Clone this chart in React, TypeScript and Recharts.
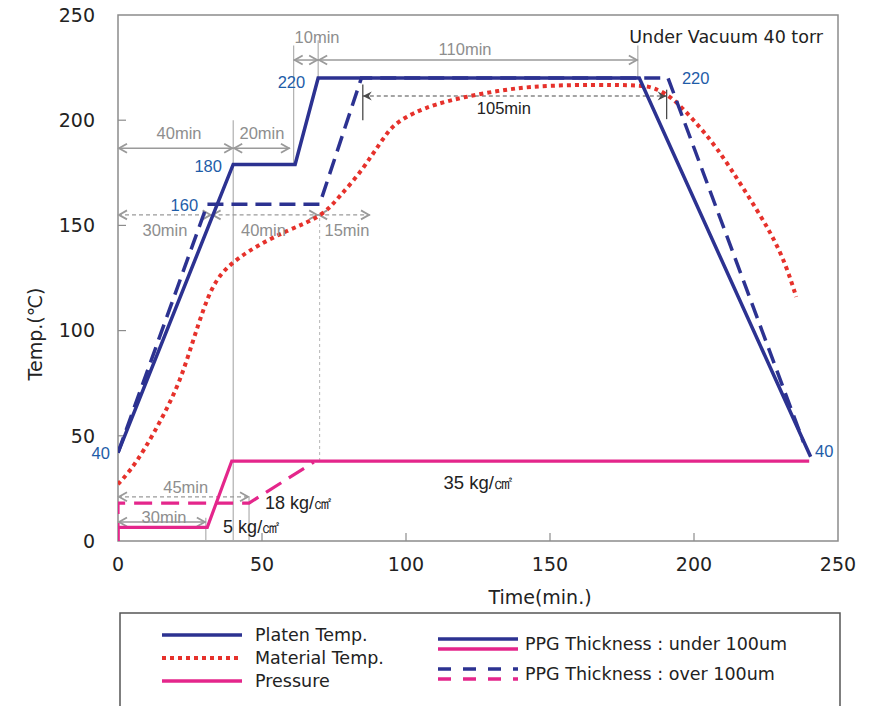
import React from 'react';
import {
    ComposedChart,
    Line,
    XAxis,
    YAxis,
    ReferenceLine,
    ReferenceArea,
    ReferenceDot,
    Label
} from 'recharts';

const SANS = '"Liberation Sans", Arial, Helvetica, sans-serif';
const WIDE = '"DejaVu Sans", "Liberation Sans", sans-serif';

const BLUE = '#2c3291';
const RED = '#e6312b';
const PINK = '#e4268b';
const NUM_BLUE = '#1e5ca8';
const GRAY = '#9a9a9a';
const DARK = '#4a4a4a';
const FRAME = '#8c8c8c';
const INK = '#222222';

// time in minutes on x, temperature (°C) on y; pressure is drawn on the same scale
const xTicks = [0, 50, 100, 150, 200, 250];
const yTicks = [0, 50, 100, 150, 200, 250];
const innerTicks = [50, 100, 150, 200];

const platenThin = [
    { t: 0, v: 42 },
    { t: 40, v: 179 },
    { t: 61.5, v: 179 },
    { t: 69.5, v: 220 },
    { t: 181, v: 220 },
    { t: 240.5, v: 40 }
];

const platenThick = [
    { t: 0, v: 42 },
    { t: 31, v: 160 },
    { t: 70, v: 160 },
    { t: 84.5, v: 220 },
    { t: 191, v: 220 },
    { t: 238, v: 47 }
];

const materialTemp = [
    { t: 0, v: 27 },
    { t: 4, v: 33 },
    { t: 9, v: 43 },
    { t: 15.6, v: 59 },
    { t: 21.6, v: 76 },
    { t: 26, v: 95 },
    { t: 29.6, v: 110 },
    { t: 32.5, v: 120 },
    { t: 36, v: 127.5 },
    { t: 40, v: 132.5 },
    { t: 45, v: 137.5 },
    { t: 52, v: 143 },
    { t: 58.8, v: 147.5 },
    { t: 65, v: 151 },
    { t: 70, v: 154.5 },
    { t: 74, v: 159 },
    { t: 77, v: 164 },
    { t: 81, v: 170 },
    { t: 85, v: 177 },
    { t: 88, v: 183 },
    { t: 91, v: 189 },
    { t: 94, v: 195 },
    { t: 97, v: 199 },
    { t: 102.6, v: 203.5 },
    { t: 110, v: 207.5 },
    { t: 120, v: 211 },
    { t: 132, v: 214 },
    { t: 143, v: 216 },
    { t: 158, v: 216.8 },
    { t: 172, v: 216.8 },
    { t: 182, v: 216.5 },
    { t: 186, v: 215.5 },
    { t: 192, v: 211.5 },
    { t: 200, v: 200 },
    { t: 208, v: 187 },
    { t: 217, v: 168 },
    { t: 227, v: 146 },
    { t: 232, v: 131 },
    { t: 235.5, v: 116 }
];

const pressureThin = [
    { t: 0, v: 0 },
    { t: 0, v: 6.5 },
    { t: 31, v: 6.5 },
    { t: 39.5, v: 38 },
    { t: 240, v: 38 }
];

const pressureThick = [
    { t: 0, v: 0 },
    { t: 0, v: 18 },
    { t: 45.5, v: 18 },
    { t: 68, v: 37.5 }
];

// dimension arrows (double headed)
const spans = [
    { from: 0, to: 40, v: 186.7, kind: 'solid' },
    { from: 40, to: 59.7, v: 186.7, kind: 'solid' },
    { from: 61, to: 69.5, v: 228.6, kind: 'solid' },
    { from: 69.5, to: 180.5, v: 228.6, kind: 'solid' },
    { from: 0, to: 32.5, v: 155, kind: 'dashed' },
    { from: 32.5, to: 69.5, v: 155, kind: 'dashed' },
    { from: 69.5, to: 87.5, v: 155, kind: 'dashed' },
    { from: 85, to: 190.5, v: 211.5, kind: 'dark' },
    { from: 0, to: 45.5, v: 21, kind: 'dashed' },
    { from: 0, to: 30.5, v: 9, kind: 'solid' }
];

const guides = [
    { t: 40, lo: 0, hi: 200, kind: 'solid' },
    { t: 61, lo: 179, hi: 235.5, kind: 'solid' },
    { t: 69.5, lo: 220, hi: 238, kind: 'solid' },
    { t: 180.5, lo: 220, hi: 235.5, kind: 'solid' },
    { t: 85, lo: 200, hi: 217, kind: 'dark' },
    { t: 190.5, lo: 200.5, hi: 214.5, kind: 'dark' },
    { t: 70, lo: 38, hi: 155, kind: 'dashed' },
    { t: 45.5, lo: 0, hi: 21, kind: 'solid' },
    { t: 30.5, lo: 0, hi: 11, kind: 'solid' }
];

const spanLabels = [
    { text: '40min', t: 21.2, v: 194 },
    { text: '20min', t: 50, v: 194 },
    { text: '10min', t: 69.1, v: 239.5 },
    { text: '110min', t: 120.5, v: 233.8 },
    { text: '30min', t: 16.3, v: 147.8 },
    { text: '40min', t: 50.5, v: 147.8 },
    { text: '15min', t: 79.5, v: 147.8 },
    { text: '45min', t: 23.5, v: 25.7 },
    { text: '30min', t: 16, v: 11.4 }
];

const inkLabels = [
    { text: '105min', t: 134, v: 205.8, anchor: 'middle', size: 16.5, font: SANS },
    { text: '5 kg/㎠', t: 36.5, v: 6.7, anchor: 'start', size: 18, font: SANS },
    { text: '18 kg/㎠', t: 51, v: 18, anchor: 'start', size: 18, font: SANS },
    { text: '35 kg/㎠', t: 113, v: 27.6, anchor: 'start', size: 18.5, font: SANS },
    { text: 'Under Vacuum 40 torr', t: 244.8, v: 239.5, anchor: 'end', size: 17.5, font: WIDE }
];

const setpointLabels = [
    { text: '40', t: -2.8, v: 41.8, anchor: 'end' },
    { text: '160', t: 27.8, v: 159.7, anchor: 'end' },
    { text: '180', t: 36.1, v: 178, anchor: 'end' },
    { text: '220', t: 65, v: 218, anchor: 'end' },
    { text: '220', t: 195.8, v: 220, anchor: 'start' },
    { text: '40', t: 242, v: 43, anchor: 'start' }
];

const legendLeft = [
    { label: 'Platen Temp.', color: BLUE, dash: undefined, width: 3.5 },
    { label: 'Material Temp.', color: RED, dash: '4 4', width: 4 },
    { label: 'Pressure', color: PINK, dash: undefined, width: 3.5 }
];

const legendRight = [
    { label: 'PPG Thickness : under 100um', dash: undefined },
    { label: 'PPG Thickness : over 100um', dash: '13 12' }
];

const spanStyle: Record<string, { color: string; dash?: string; width: number }> = {
    solid: { color: GRAY, width: 1.5 },
    dashed: { color: GRAY, dash: '4 3', width: 1.3 },
    dark: { color: DARK, dash: '4 3', width: 1.2 }
};

const arrowShape = (kind: string) => (p: any) => {
    const { color, dash, width } = spanStyle[kind];
    const left = Math.min(p.x1, p.x2);
    const right = Math.max(p.x1, p.x2);
    const y = p.y1;
    const h = 9;
    const w = 4.5;
    if (kind === 'dark') {
        return (
            <g>
                <line x1={left} y1={y} x2={right} y2={y} stroke={color} strokeWidth={width} strokeDasharray={dash} />
                <polygon points={`${left},${y} ${left + h},${y - w} ${left + h - 3},${y} ${left + h},${y + w}`} fill={color} />
                <polygon points={`${right},${y} ${right - h},${y - w} ${right - h + 3},${y} ${right - h},${y + w}`} fill={color} />
            </g>
        );
    }
    return (
        <g>
            <line x1={left} y1={y} x2={right} y2={y} stroke={color} strokeWidth={width} strokeDasharray={dash} />
            <polyline points={`${left + h},${y - w} ${left + 1},${y} ${left + h},${y + w}`} fill="none" stroke={color} strokeWidth={1.8} />
            <polyline points={`${right - h},${y - w} ${right - 1},${y} ${right - h},${y + w}`} fill="none" stroke={color} strokeWidth={1.8} />
        </g>
    );
};

const textShape = (text: string, anchor: string, color: string, size: number, font: string = SANS) => (p: any) => (
    <text
        x={p.cx}
        y={p.cy}
        textAnchor={anchor as any}
        dominantBaseline="central"
        fill={color}
        fontSize={size}
        fontFamily={font}
    >
        {text}
    </text>
);

const Legend = () => (
    <svg
        width={872}
        height={706}
        style={{ position: 'absolute', left: 0, top: 0, pointerEvents: 'none' }}
    >
        <rect x={120} y={613} width={720} height={120} fill="none" stroke="#555" strokeWidth={1.5} />
        {legendLeft.map((item, i) => {
            const y = 635 + i * 23;
            return (
                <g key={item.label}>
                    <line x1={162} y1={y} x2={242} y2={y} stroke={item.color} strokeWidth={item.width} strokeDasharray={item.dash} />
                    <text x={255} y={y} dominantBaseline="central" fontSize={17.5} fontFamily={WIDE} fill={INK}>
                        {item.label}
                    </text>
                </g>
            );
        })}
        {legendRight.map((item, i) => {
            const y = 644 + i * 30;
            return (
                <g key={item.label}>
                    <line x1={438} y1={y - 5} x2={518} y2={y - 5} stroke={BLUE} strokeWidth={3.5} strokeDasharray={item.dash} />
                    <line x1={438} y1={y + 5} x2={518} y2={y + 5} stroke={PINK} strokeWidth={3.5} strokeDasharray={item.dash} />
                    <text x={525} y={y} dominantBaseline="central" fontSize={17.5} fontFamily={WIDE} fill={INK}>
                        {item.label}
                    </text>
                </g>
            );
        })}
    </svg>
);

const App = () => {
    return (
        <div style={{ position: 'absolute', left: 0, top: 0, width: 872, height: 706, overflow: 'hidden', background: '#fff' }}>
            <ComposedChart width={872} height={706} margin={{ top: 15, right: 34, bottom: 135, left: 18 }}>
                <XAxis
                    dataKey="t"
                    type="number"
                    domain={[0, 250]}
                    ticks={xTicks}
                    interval={0}
                    allowDataOverflow
                    axisLine={false}
                    tickLine={false}
                    tickSize={8}
                    tickMargin={9}
                    height={30}
                    tick={{ fontSize: 19, fontFamily: WIDE, fill: INK }}
                >
                    <Label
                        content={() => (
                            <text x={540} y={597} textAnchor="middle" dominantBaseline="central" fontSize={19} fontFamily={WIDE} fill={INK}>
                                Time(min.)
                            </text>
                        )}
                    />
                </XAxis>
                <YAxis
                    type="number"
                    domain={[0, 250]}
                    ticks={yTicks}
                    interval={0}
                    allowDataOverflow
                    axisLine={false}
                    tickLine={false}
                    tickSize={8}
                    tickMargin={15}
                    width={100}
                    tick={{ fontSize: 19, fontFamily: WIDE, fill: INK }}
                >
                    <Label
                        content={() => (
                            <text
                                x={35}
                                y={334}
                                transform="rotate(-90 35 334)"
                                textAnchor="middle"
                                dominantBaseline="central"
                                fontSize={19}
                                fontFamily={WIDE}
                                fill={INK}
                            >
                                Temp.(℃)
                            </text>
                        )}
                    />
                </YAxis>

                <ReferenceArea x1={0} x2={250} y1={0} y2={250} fill="none" stroke={FRAME} strokeWidth={1.5} ifOverflow="visible" />

                {innerTicks.map((t) => (
                    <ReferenceLine
                        key={`xt-${t}`}
                        x={t}
                        shape={(p: any) => {
                            const b = Math.max(p.y1, p.y2);
                            return <line x1={p.x1} y1={b} x2={p.x1} y2={b - 8} stroke={FRAME} strokeWidth={1.2} />;
                        }}
                    />
                ))}
                {innerTicks.map((v) => (
                    <ReferenceLine
                        key={`yt-${v}`}
                        y={v}
                        shape={(p: any) => {
                            const l = Math.min(p.x1, p.x2);
                            return <line x1={l} y1={p.y1} x2={l + 8} y2={p.y1} stroke={FRAME} strokeWidth={1.2} />;
                        }}
                    />
                ))}

                {guides.map((g, i) => (
                    <ReferenceLine
                        key={`g-${i}`}
                        segment={[{ x: g.t, y: g.lo }, { x: g.t, y: g.hi }]}
                        stroke={g.kind === 'dark' ? DARK : g.kind === 'dashed' ? '#bdbdbd' : '#a8a8a8'}
                        strokeWidth={g.kind === 'dark' ? 1.3 : 1.1}
                        strokeDasharray={g.kind === 'dashed' ? '3 3' : undefined}
                        ifOverflow="visible"
                    />
                ))}

                {spans.map((s, i) => (
                    <ReferenceLine
                        key={`s-${i}`}
                        segment={[{ x: s.from, y: s.v }, { x: s.to, y: s.v }]}
                        ifOverflow="visible"
                        shape={arrowShape(s.kind)}
                    />
                ))}

                <Line data={materialTemp} dataKey="v" type="basis" stroke={RED} strokeWidth={4} strokeDasharray="4 4" dot={false} isAnimationActive={false} />
                <Line data={pressureThick} dataKey="v" type="linear" stroke={PINK} strokeWidth={3.2} strokeDasharray="18 9" dot={false} isAnimationActive={false} />
                <Line data={pressureThin} dataKey="v" type="linear" stroke={PINK} strokeWidth={3.2} dot={false} isAnimationActive={false} />
                <Line data={platenThick} dataKey="v" type="linear" stroke={BLUE} strokeWidth={3.5} strokeDasharray="16 8" dot={false} isAnimationActive={false} />
                <Line data={platenThin} dataKey="v" type="linear" stroke={BLUE} strokeWidth={3.5} dot={false} isAnimationActive={false} />

                {spanLabels.map((l, i) => (
                    <ReferenceDot key={`sl-${i}`} x={l.t} y={l.v} r={0} ifOverflow="visible" shape={textShape(l.text, 'middle', '#8e8e8e', 16.5)} />
                ))}
                {inkLabels.map((l, i) => (
                    <ReferenceDot key={`il-${i}`} x={l.t} y={l.v} r={0} ifOverflow="visible" shape={textShape(l.text, l.anchor, INK, l.size, l.font)} />
                ))}
                {setpointLabels.map((l, i) => (
                    <ReferenceDot key={`sp-${i}`} x={l.t} y={l.v} r={0} ifOverflow="visible" shape={textShape(l.text, l.anchor, NUM_BLUE, 16.5)} />
                ))}
            </ComposedChart>
            <Legend />
        </div>
    );
};

export default App;
